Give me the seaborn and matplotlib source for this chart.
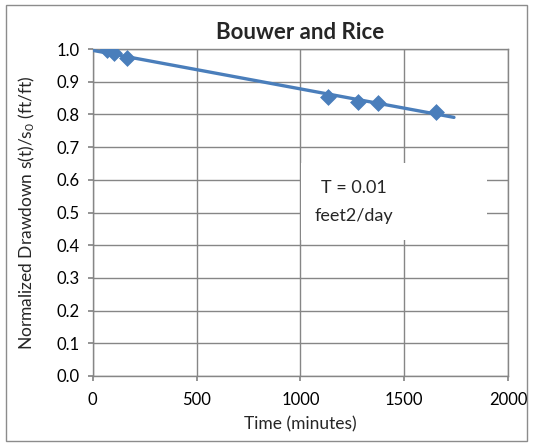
import pandas as pd
import seaborn as sns
import matplotlib.pyplot as plt
from matplotlib.patches import Rectangle

time_min = [67, 104, 164, 1135, 1277, 1373, 1652]
norm_drawdown = [0.997, 0.987, 0.973, 0.854, 0.839, 0.834, 0.806]

# straight-line fit shown on the chart
fit_time = [0, 1740]
fit_drawdown = [0.996, 0.791]

x_ticks = [0, 500, 1000, 1500, 2000]
y_ticks = [0.0, 0.1, 0.2, 0.3, 0.4, 0.5, 0.6, 0.7, 0.8, 0.9, 1.0]

BLUE = "#4A7EBB"
GRID = "#868686"

sns.set_theme(style="white")
plt.rcParams["font.family"] = ["Lato", "DejaVu Sans"]
plt.rcParams["mathtext.default"] = "regular"

pts = pd.DataFrame({"t": time_min, "s": norm_drawdown})
fit = pd.DataFrame({"t": fit_time, "s": fit_drawdown})

fig = plt.figure(figsize=(5.33, 4.46), dpi=100)
ax = fig.add_axes([0.174, 0.157, 0.779, 0.733])

# outer chart border
fig.patches.append(Rectangle((0.012, 0.012), 0.976, 0.976, transform=fig.transFigure,
                             fill=False, edgecolor="#8C8C8C", linewidth=1.0))

sns.lineplot(data=fit, x="t", y="s", ax=ax, color=BLUE, linewidth=2.4, zorder=3)
sns.scatterplot(data=pts, x="t", y="s", ax=ax, marker="D", s=65, color=BLUE,
                edgecolor=BLUE, linewidth=0.5, zorder=4)

ax.set_xlim(0, 2000)
ax.set_ylim(0, 1.0)
ax.set_xticks(x_ticks)
ax.set_yticks(y_ticks)
ax.set_yticklabels([f"{v:.1f}" for v in y_ticks])
ax.grid(True, color=GRID, linewidth=1.0, zorder=0)
ax.set_axisbelow(True)
for sp in ax.spines.values():
    sp.set_color(GRID)
    sp.set_linewidth(1.0)
ax.tick_params(axis="both", direction="out", length=3.6, color=GRID, labelsize=12,
               labelcolor="black", left=True, bottom=True)
ax.tick_params(axis="y", pad=6)
ax.tick_params(axis="x", pad=8)

ax.set_xlabel("Time (minutes)", fontsize=12.5, labelpad=6)
ax.set_ylabel("Normalized Drawdown s(t)/s$_0$ (ft/ft)", fontsize=12.5, labelpad=14)
ax.set_title("Bouwer and Rice", fontsize=16, fontweight="bold", pad=7)

# annotation box
ax.add_patch(Rectangle((1004, 0.416), 896, 0.235, facecolor="white", edgecolor="none", zorder=2))
ax.text(1260, 0.575, "T = 0.01", fontsize=13, ha="center", va="center", zorder=5)
ax.text(1260, 0.49, "feet2/day", fontsize=13, ha="center", va="center", zorder=5)

fig.savefig("out.png", dpi=100)
